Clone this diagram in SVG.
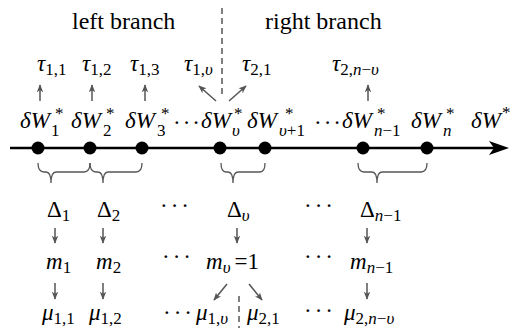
<svg xmlns="http://www.w3.org/2000/svg" width="511" height="328" viewBox="0 0 511 328" font-family="'Liberation Serif', 'Times New Roman', 'DejaVu Serif', serif">
<defs>
<style>
text{font-family:'Liberation Serif','Times New Roman','DejaVu Serif',serif;fill:#000}
.v{font-size:23px;font-style:italic}
.u{font-size:23px;font-style:normal}
.s{font-size:17px;font-style:normal}
.si{font-size:17px;font-style:italic}
.st{font-size:17px;font-style:normal}
.lbl{font-size:24px;font-style:normal}
.dots{font-size:23px;font-style:normal;letter-spacing:3px}
.dots2{font-size:23px;font-style:normal;letter-spacing:2px}
.arr{stroke:#555;stroke-width:1.5;fill:none;marker-end:url(#ah)}
.dash{stroke:#555;stroke-width:1.5;stroke-dasharray:6 4;fill:none}
.brace{stroke:#555;stroke-width:1.3;fill:none}
.dot{fill:#000}
</style>
<marker id="ah" viewBox="0 0 10 10" refX="9" refY="5" markerWidth="8" markerHeight="8" orient="auto" markerUnits="userSpaceOnUse">
<path d="M0,1 L10,5 L0,9 L2.5,5 z" fill="#555"/>
</marker>
</defs>

<g id="titles">
<text class="lbl" x="72" y="29">left branch</text>
<text class="lbl" x="265" y="29">right branch</text>
</g>

<g id="connectors">
<line class="dash" x1="222" y1="8" x2="222" y2="97"/>
<line class="dash" x1="239" y1="296" x2="239" y2="328"/>
<line class="arr" x1="40" y1="101" x2="40" y2="85"/>
<line class="arr" x1="92" y1="101" x2="92" y2="85"/>
<line class="arr" x1="145" y1="101" x2="145" y2="85"/>
<line class="arr" x1="368" y1="101" x2="368" y2="85"/>
<line class="arr" x1="216" y1="101" x2="199" y2="86"/>
<line class="arr" x1="229" y1="101" x2="246" y2="86"/>
<line class="arr" x1="55" y1="228" x2="55" y2="243"/>
<line class="arr" x1="103" y1="228" x2="103" y2="243"/>
<line class="arr" x1="237" y1="228" x2="237" y2="243"/>
<line class="arr" x1="367" y1="228" x2="367" y2="243"/>
<line class="arr" x1="55" y1="283" x2="55" y2="299"/>
<line class="arr" x1="103" y1="283" x2="103" y2="299"/>
<line class="arr" x1="367" y1="283" x2="367" y2="299"/>
<line class="arr" x1="227" y1="284" x2="214" y2="300"/>
<line class="arr" x1="249" y1="284" x2="262" y2="300"/>
<path class="brace" d="M38 163 Q38 172 44 172 L46 172 Q51 172 51 183 Q51 172 56 172 L84 172 Q90 172 90 163"/>
<path class="brace" d="M90 163 Q90 172 96 172 L98 172 Q103 172 103 183 Q103 172 108 172 L136 172 Q142 172 142 163"/>
<path class="brace" d="M221 163 Q221 172 226 172 L228 172 Q233 172 233 183 Q233 172 238 172 L260 172 Q265 172 265 163"/>
<path class="brace" d="M358 163 Q358 172 364 172 L372 172 Q377 172 377 183 Q377 172 382 172 L421 172 Q427 172 427 163"/>
</g>

<g id="axis">
<line x1="10" y1="148" x2="495" y2="148" stroke="#000" stroke-width="2.5"/>
<polygon points="509,148 489,141 494,148 489,155" fill="#000"/>
<circle class="dot" cx="38" cy="148" r="6.5"/>
<circle class="dot" cx="90" cy="148" r="6.5"/>
<circle class="dot" cx="142" cy="148" r="6.5"/>
<circle class="dot" cx="220" cy="148" r="6.5"/>
<circle class="dot" cx="265" cy="148" r="6.5"/>
<circle class="dot" cx="363" cy="148" r="6.5"/>
<circle class="dot" cx="427" cy="148" r="6.5"/>
</g>

<g id="tau">
<text class="v" x="37" y="71">τ<tspan class="s" dy="4">1,1</tspan></text>
<text class="v" x="82" y="71">τ<tspan class="s" dy="4">1,2</tspan></text>
<text class="v" x="130" y="71">τ<tspan class="s" dy="4">1,3</tspan></text>
<text class="v" x="184" y="71">τ<tspan class="s" dy="4">1,</tspan><tspan class="si">υ</tspan></text>
<text class="v" x="242" y="71">τ<tspan class="s" dy="4">2,1</tspan></text>
<text class="v" x="332" y="71">τ<tspan class="s" dy="4">2,</tspan><tspan class="si">n</tspan><tspan class="s">−</tspan><tspan class="si">υ</tspan></text>
</g>

<g id="dW">
<text class="v" x="20" y="128">δW</text><text class="s" x="51" y="136">1</text><text class="st" x="55" y="119">*</text>
<text class="v" x="71" y="128">δW</text><text class="s" x="103" y="136">2</text><text class="st" x="106" y="119">*</text>
<text class="v" x="125" y="128">δW</text><text class="s" x="157" y="136">3</text><text class="st" x="161" y="119">*</text>
<text class="dots2" x="173" y="130">···</text>
<text class="v" x="201" y="128">δW</text><text class="si" x="232" y="136">υ</text><text class="st" x="234" y="119">*</text>
<text class="v" x="247" y="128">δW</text><text class="s" x="279" y="136"><tspan class="si">υ</tspan>+1</text><text class="st" x="285" y="119">*</text>
<text class="dots2" x="314" y="130">···</text>
<text class="v" x="342" y="128">δW</text><text class="s" x="374" y="136"><tspan class="si">n</tspan>−1</text><text class="st" x="377" y="119">*</text>
<text class="v" x="411" y="128">δW</text><text class="si" x="443" y="136">n</text><text class="st" x="446" y="119">*</text>
<text class="v" x="471" y="128">δW</text><text class="st" x="502" y="118">*</text>
</g>

<g id="delta">
<text class="u" x="47" y="217">Δ<tspan class="s" dy="4">1</tspan></text>
<text class="u" x="97" y="217">Δ<tspan class="s" dy="4">2</tspan></text>
<text class="dots" x="160" y="213">···</text>
<text class="u" x="227" y="217">Δ<tspan class="si" dy="4">υ</tspan></text>
<text class="dots" x="304" y="213">···</text>
<text class="u" x="360" y="217">Δ<tspan class="si" dy="4">n</tspan><tspan class="s">−1</tspan></text>
</g>

<g id="m">
<text class="v" x="46" y="269">m<tspan class="s" dy="4">1</tspan></text>
<text class="v" x="96" y="269">m<tspan class="s" dy="4">2</tspan></text>
<text class="dots" x="162" y="264">···</text>
<text class="v" x="206" y="269">m<tspan class="si" dy="4">υ</tspan><tspan class="u" dy="-4" dx="4">=1</tspan></text>
<text class="dots" x="304" y="264">···</text>
<text class="v" x="350" y="269">m<tspan class="si" dy="4">n</tspan><tspan class="s">−1</tspan></text>
</g>

<g id="mu">
<text class="v" x="42" y="320">μ<tspan class="s" dy="4">1,1</tspan></text>
<text class="v" x="89" y="320">μ<tspan class="s" dy="4">1,2</tspan></text>
<text class="dots" x="163" y="320">···</text>
<text class="v" x="196" y="320">μ<tspan class="s" dy="4">1,</tspan><tspan class="si">υ</tspan></text>
<text class="v" x="247" y="320">μ<tspan class="s" dy="4">2,1</tspan></text>
<text class="dots" x="304" y="318">···</text>
<text class="v" x="344" y="320">μ<tspan class="s" dy="4">2,</tspan><tspan class="si">n</tspan><tspan class="s">−</tspan><tspan class="si">υ</tspan></text>
</g>
</svg>
